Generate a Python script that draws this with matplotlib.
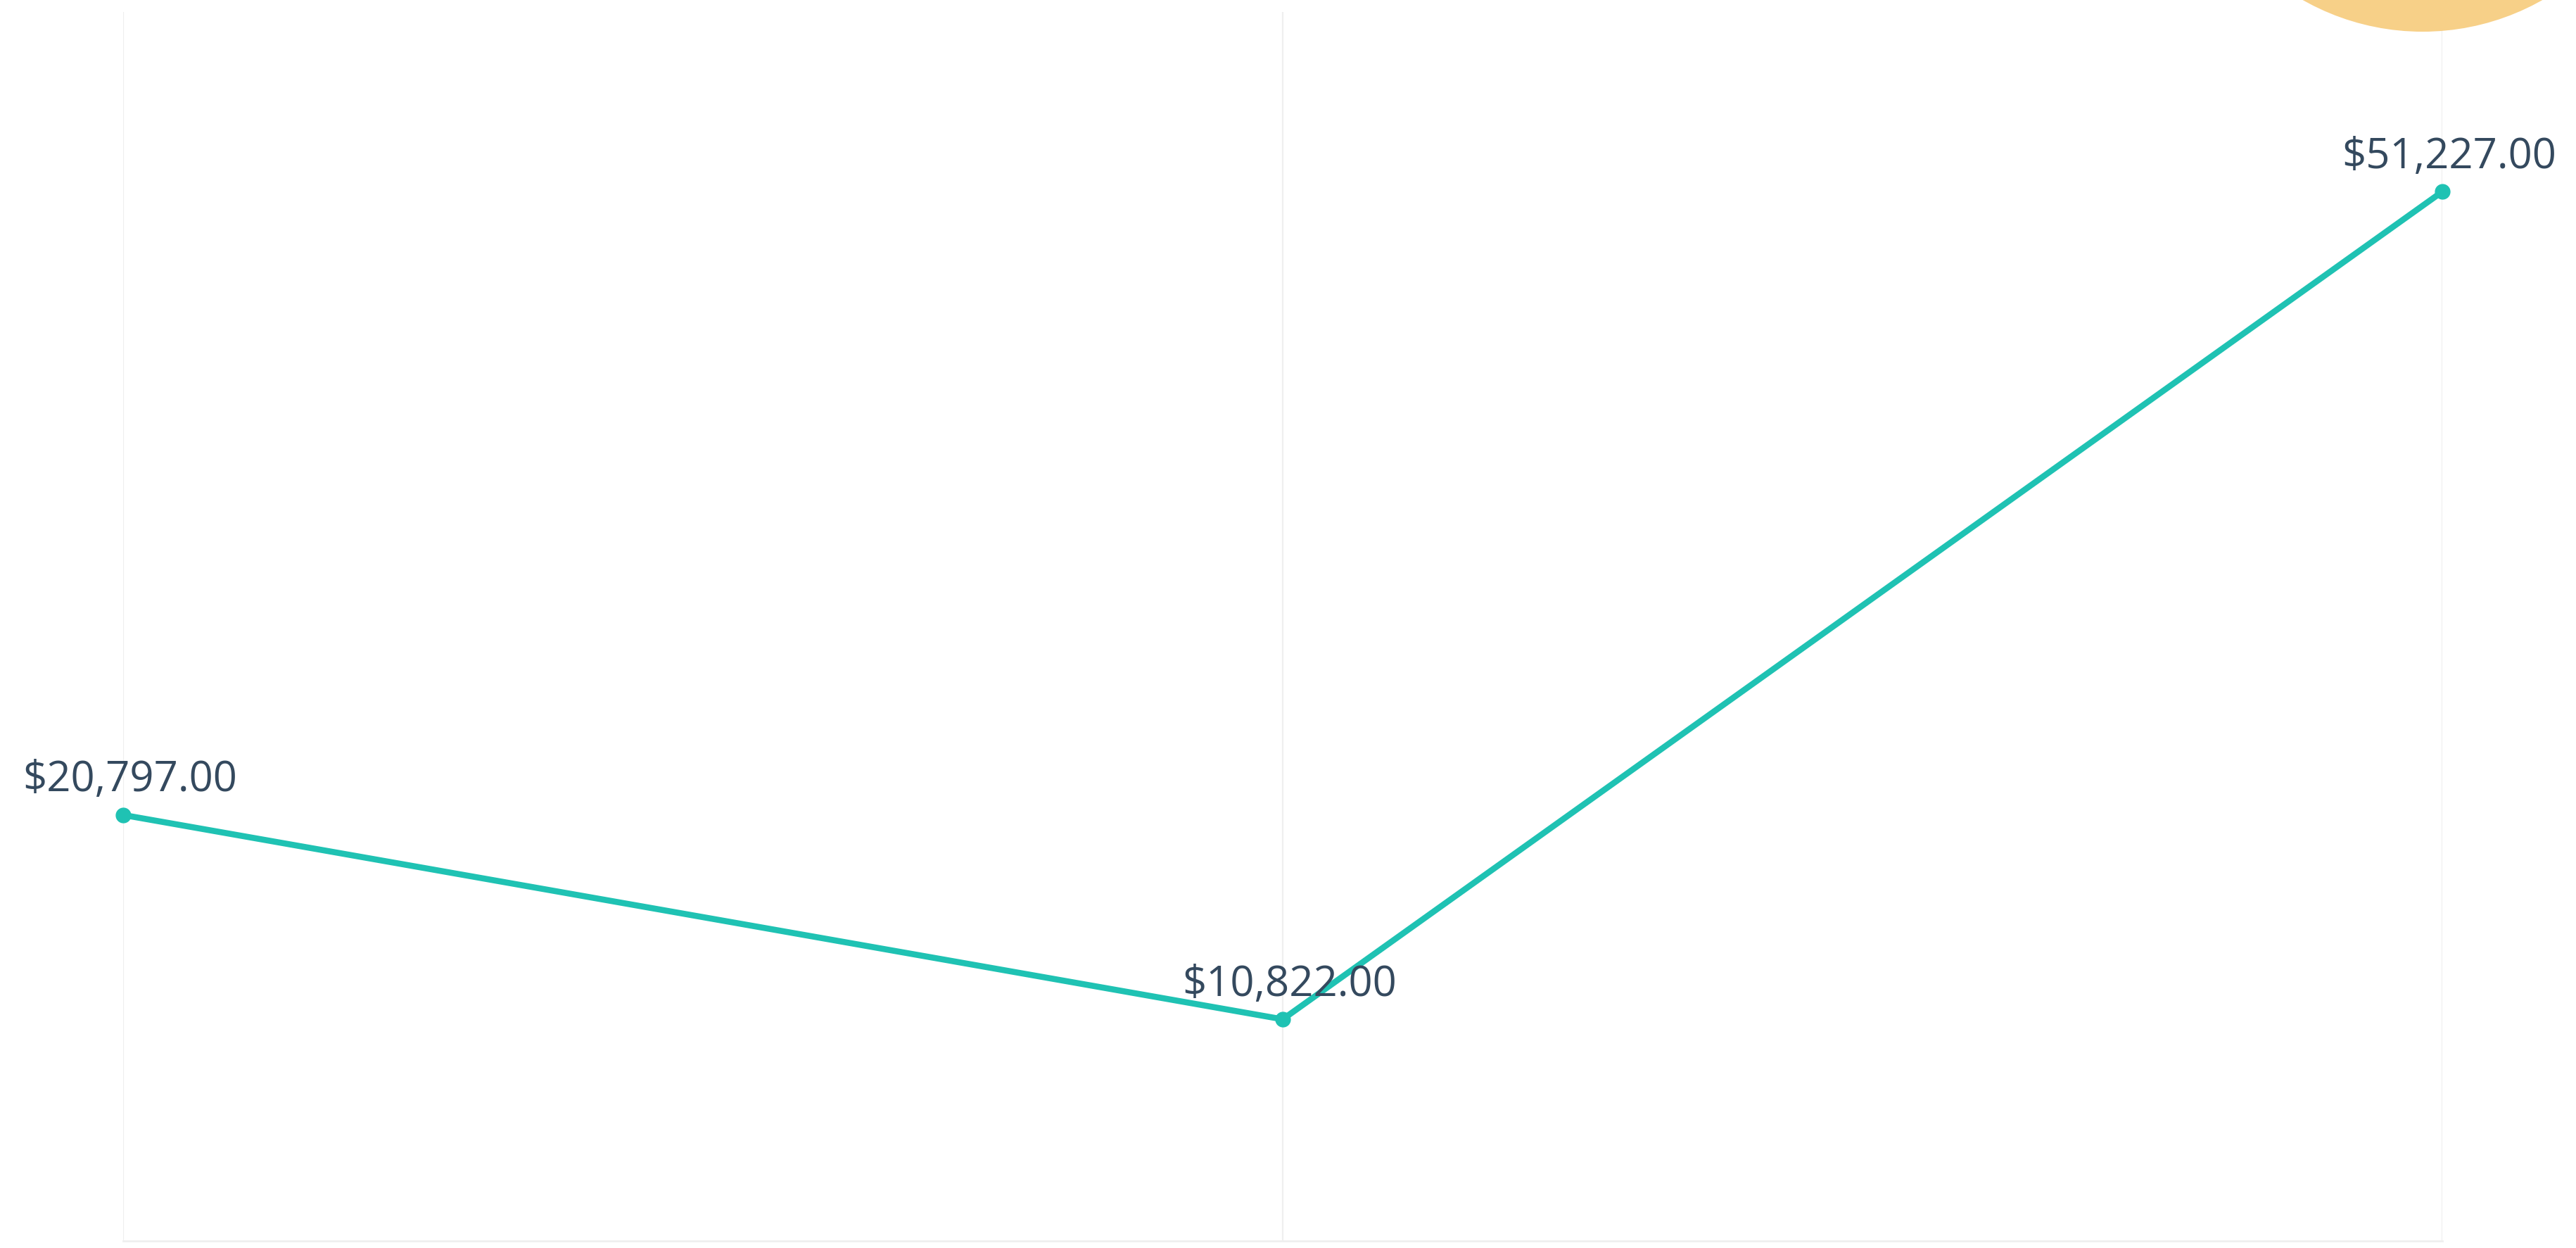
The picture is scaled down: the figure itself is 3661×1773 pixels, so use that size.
import matplotlib
matplotlib.use('Agg')
import matplotlib.pyplot as plt
from matplotlib.patches import Circle

# data
categories = [0, 1, 2]
revenue = [20797.00, 10822.00, 51227.00]
labels = ["$20,797.00", "$10,822.00", "$51,227.00"]

line_color = '#1fc2b3'
text_color = '#34495e'
grid_color = '#efefef'

fig = plt.figure(figsize=(36.61, 17.73), dpi=100)
ax = fig.add_axes([175 / 3661, 10 / 1773, (3471 - 175) / 3661, (1756 - 10) / 1773])

ax.plot(categories, revenue, color=line_color, linewidth=6.2,
        marker='o', markersize=15, solid_capstyle='round', zorder=3, clip_on=False)

for x, y, lab in zip(categories, revenue, labels):
    ax.annotate(lab, (x, y), xytext=(7, 24), textcoords='offset points',
                ha='center', va='baseline', fontsize=43, color=text_color,
                family=['Open Sans', 'DejaVu Sans'], zorder=4)

ax.set_xlim(0, 2)
ax.set_ylim(0, 60000)

# light vertical grid at every category, plain bottom line
ax.set_xticks(categories)
ax.grid(True, axis='x', color=grid_color, linewidth=1.6)
ax.tick_params(left=False, bottom=False, labelleft=False, labelbottom=False)
for s in ['top', 'left', 'right']:
    ax.spines[s].set_visible(False)
ax.spines['bottom'].set_color(grid_color)
ax.spines['bottom'].set_linewidth(2)

# partly hidden circle in the upper right corner (inch coordinates)
circ = Circle((34.43, 17.73 + 3.0), 3.45, transform=fig.dpi_scale_trans,
              facecolor='#f7d088', edgecolor='none', zorder=0)
fig.patches.append(circ)

fig.savefig('out.png', dpi=100)
